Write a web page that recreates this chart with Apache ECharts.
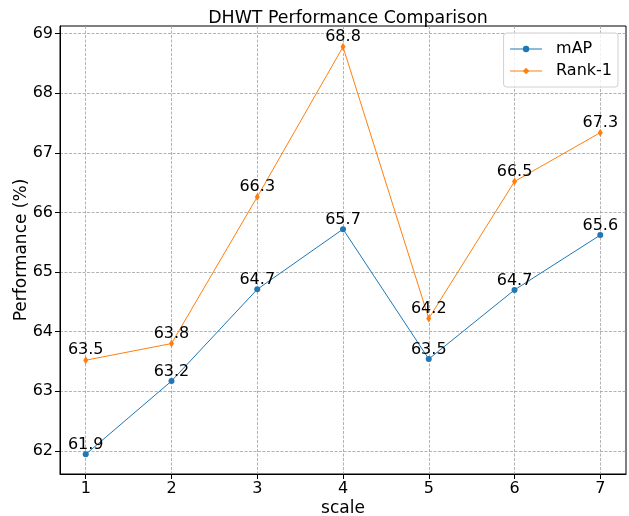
<!DOCTYPE html>
<html><head><meta charset="utf-8">
<script src="https://cdn.jsdelivr.net/npm/echarts@6/dist/echarts.min.js"></script>
<style>html,body{margin:0;padding:0;background:#fff}#c{width:629px;height:516px}</style>
</head><body><div id="c"></div>
<script>
var scales = [1, 2, 3, 4, 5, 6, 7];
var mAP = [61.94, 63.17, 64.71, 65.72, 63.54, 64.70, 65.62];
var rank1 = [63.52, 63.80, 66.26, 68.78, 64.22, 66.52, 67.34];
var yTicks = [62, 63, 64, 65, 66, 67, 68, 69];

var FONT = 'DejaVu Sans';
function pairs(v){ return scales.map(function(s,i){ return [s, v[i]]; }); }
function intFmt(v){ return Math.abs(v - Math.round(v)) < 1e-6 ? String(Math.round(v)) : ''; }
var lbl = {show:true, position:'top', distance:-2, color:'#000', fontFamily:FONT, fontSize:16,
  formatter:function(p){ return p.value[1].toFixed(1); }};
var gridLine = {show:true, lineStyle:{color:'#a0a0a0', type:[3,1.5], width:0.8}};

var chart = echarts.init(document.getElementById('c'), null, {renderer:'canvas'});
chart.setOption({
  animation:false,
  backgroundColor:'#fff',
  title:{text:'DHWT Performance Comparison', left:343, textAlign:'center', top:5,
    textStyle:{fontFamily:FONT, fontSize:17.4, fontWeight:'normal', color:'#000'}},
  legend:{right:11, top:33, orient:'vertical', itemWidth:32, itemHeight:8, itemGap:6,
    padding:[8,6,8,6], borderColor:'#d0d0d0', borderWidth:1, borderRadius:3,
    backgroundColor:'rgba(255,255,255,0.8)',
    lineStyle:{width:1},
    textStyle:{fontFamily:FONT, fontSize:16, color:'#000', padding:[0,0,0,9]}},
  grid:{left:60, right:3, top:26, bottom:42, containLabel:false, outerBoundsMode:'none',
    show:true, borderColor:'#000', borderWidth:1, backgroundColor:'transparent'},
  xAxis:{type:'value', min:0.7, max:7.3, interval:1,
    name:'scale', nameLocation:'middle', nameGap:26, nameMoveOverlap:false,
    nameTextStyle:{fontFamily:FONT, fontSize:17, color:'#000'},
    axisLine:{show:true, onZero:false, lineStyle:{color:'#000'}},
    axisTick:{show:true, length:5, lineStyle:{color:'#000'}, customValues: scales},
    axisLabel:{fontFamily:FONT, fontSize:16, color:'#000', margin:7, customValues: scales, formatter:intFmt},
    splitLine:gridLine},
  yAxis:{type:'value', min:61.61, max:69.13, interval:1,
    name:'Performance (%)', nameLocation:'middle', nameGap:30, nameMoveOverlap:false,
    nameTextStyle:{fontFamily:FONT, fontSize:17, color:'#000'},
    axisLine:{show:true, lineStyle:{color:'#000'}},
    axisTick:{show:true, length:5, lineStyle:{color:'#000'}, customValues: yTicks},
    axisLabel:{fontFamily:FONT, fontSize:16, color:'#000', margin:7, customValues: yTicks, formatter:intFmt},
    splitLine:gridLine},
  series:[
    {name:'mAP', type:'line', data:pairs(mAP), symbol:'circle', symbolSize:6,
      itemStyle:{color:'#1f77b4'}, lineStyle:{color:'#1f77b4', width:1}, label:lbl, z:3},
    {name:'Rank-1', type:'line', data:pairs(rank1), symbol:'diamond', symbolSize:[5,8],
      itemStyle:{color:'#ff7f0e'}, lineStyle:{color:'#ff7f0e', width:1}, label:lbl, z:4}
  ]
});
</script></body></html>
